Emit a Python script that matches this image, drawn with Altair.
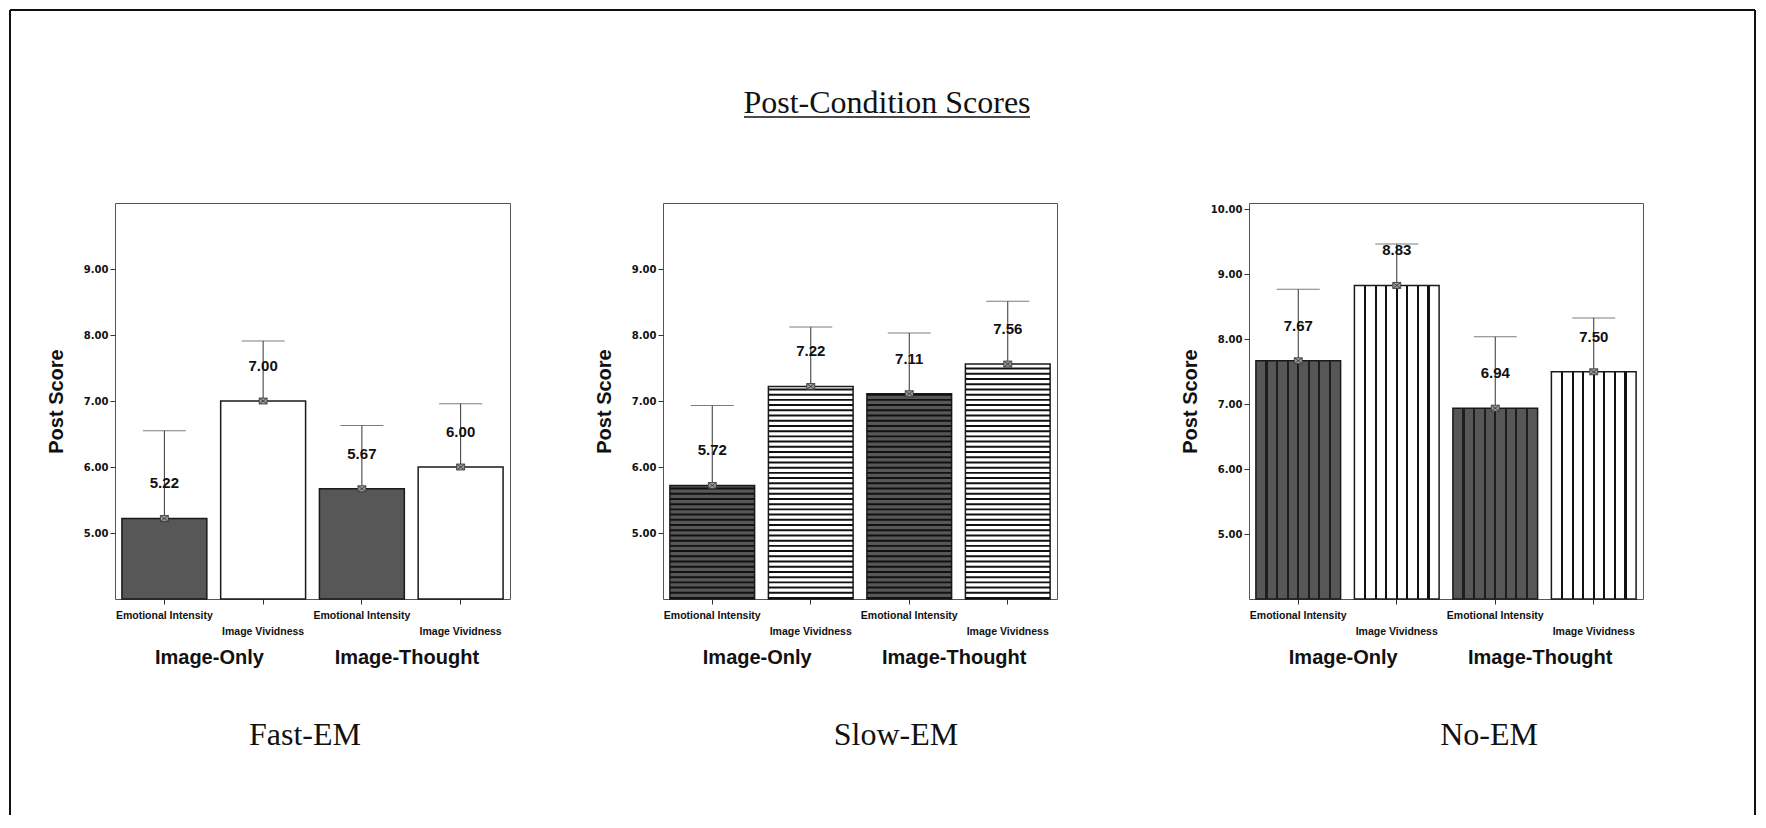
import altair as alt
import pandas as pd

# ---------------- data ----------------
conditions = ["Fast-EM", "Slow-EM", "No-EM"]
groups = ["Image-Only", "Image-Thought"]
measures = ["Emotional Intensity", "Image Vividness"]

fast_means = [5.22, 7.00, 5.67, 6.00]
fast_upper = [6.55, 7.91, 6.63, 6.96]
slow_means = [5.72, 7.22, 7.11, 7.56]
slow_upper = [6.93, 8.12, 8.03, 8.51]
no_means = [7.67, 8.83, 6.94, 7.50]
no_upper = [8.77, 9.47, 8.04, 8.33]

ticks_fast = [5, 6, 7, 8, 9]
ticks_slow = [5, 6, 7, 8, 9]
ticks_no = [5, 6, 7, 8, 9, 10]
domain_fast = [4, 10]
domain_slow = [4, 10]
domain_no = [4, 10.1]

main_title = "Post-Condition Scores"
axis_title = "Post Score"

SANS = "Liberation Sans"
SERIF = "Liberation Serif"
H = 396
DARK = "#575757"


def make_df(means, uppers):
    rows = []
    i = 0
    for g in groups:
        for m in measures:
            rows.append({"group": g, "measure": m, "key": f"{g} | {m}",
                         "mean": means[i], "upper": uppers[i],
                         "label": f"{means[i]:.2f}"})
            i += 1
    return pd.DataFrame(rows)


keys = [f"{g} | {m}" for g in groups for m in measures]
label_expr = ("split(datum.value, ' | ')[1] == '%s' ? ['', split(datum.value, ' | ')[1]] "
              ": split(datum.value, ' | ')[1]") % measures[1]


def stripe_stops(base, line):
    gs = alt.GradientStop
    stops = [gs(offset=0, color=base)]
    for k in range(1, 8):
        c = k / 8
        stops += [gs(offset=c - 0.012, color=base), gs(offset=c - 0.012, color=line),
                  gs(offset=c + 0.012, color=line), gs(offset=c + 0.012, color=base)]
    stops.append(gs(offset=1, color=base))
    return alt.LinearGradient(gradient="linear", stops=stops, x1=0, x2=1, y1=0, y2=0)


def panel(cond, means, uppers, ticks, domain, texture, width, title_x, extra=None):
    df = make_df(means, uppers)
    xax = alt.Axis(title=None, labelExpr=label_expr, labelAngle=0, labelFont=SANS,
                   labelFontSize=10.5, labelFontWeight="bold", labelColor="#111",
                   tickSize=5, tickColor="#333", labelPadding=6, labelLineHeight=16,
                   labelBaseline="top", labelAlign="center", domain=False,
                   labelOverlap=False, labelFlush=False)
    yax = alt.Axis(values=ticks, format=".2f", title=axis_title, titleFont=SANS,
                   titleFontSize=20, titleFontWeight="bold", titleColor="#111",
                   titleX=-59, titleY=H / 2, titleAlign="center", titleBaseline="middle",
                   labelFont="DejaVu Sans", labelFontSize=10, labelFontWeight="bold",
                   labelColor="#111", labelPadding=2, tickSize=5, tickColor="#333",
                   domain=False, grid=False)
    xs = alt.Scale(domain=keys, paddingInner=0.14, paddingOuter=0.07)
    ys = alt.Scale(domain=domain, nice=False, zero=False)
    X = alt.X("key:N", sort=keys, scale=xs, axis=xax)
    base = alt.Chart(df)

    layers = []
    if texture == "vertical":
        for m, b, ln in [(measures[0], DARK, "#1e1e1e"), (measures[1], "white", "#111")]:
            layers.append(
                base.transform_filter(alt.datum.measure == m)
                .mark_bar(fill=stripe_stops(b, ln), stroke="#1a1a1a", strokeWidth=1.5)
                .encode(x=X, y=alt.Y("mean:Q", scale=ys, axis=yax), y2=alt.datum(domain[0]))
            )
    else:
        layers.append(
            base.mark_bar(stroke="#1a1a1a", strokeWidth=1.5)
            .encode(x=X, y=alt.Y("mean:Q", scale=ys, axis=yax), y2=alt.datum(domain[0]),
                    fill=alt.condition(alt.datum.measure == measures[0],
                                       alt.value(DARK), alt.value("white")))
        )
        if texture == "horizontal":
            layers.append(
                base.transform_calculate(s="sequence(%s, datum.mean - 0.02, 0.079)" % domain[0])
                .transform_flatten(["s"])
                .transform_calculate(s2="datum.s + 0.03")
                .mark_bar(color="#111")
                .encode(x=X, y=alt.Y("s:Q", scale=ys, axis=yax), y2="s2:Q")
            )

    layers.append(base.mark_rule(color="#333", strokeWidth=1)
                  .encode(x=X, y=alt.Y("mean:Q", scale=ys, axis=yax), y2="upper:Q"))
    layers.append(base.mark_tick(orient="horizontal", size=43, thickness=1, color="#444")
                  .encode(x=X, y=alt.Y("upper:Q", scale=ys, axis=yax)))
    layers.append(base.mark_point(shape="M-1,-0.75L1,-0.75L1,0.75L-1,0.75Z M-1,-0.75L1,0.75 M1,-0.75L-1,0.75",
                                  size=64, filled=True, fill="#9a9a9a", stroke="#333",
                                  strokeWidth=0.8, opacity=1)
                  .encode(x=X, y=alt.Y("mean:Q", scale=ys, axis=yax)))
    layers.append(base.mark_text(dy=-35, font=SANS, fontSize=15, fontWeight="bold",
                                 baseline="middle", align="center", color="#111")
                  .encode(x=X, y=alt.Y("mean:Q", scale=ys, axis=yax), text="label:N"))

    gdf = pd.DataFrame({"group": groups, "key": [f"{g} | {measures[0]}" for g in groups]})
    layers.append(alt.Chart(gdf).mark_text(dx=45, font=SANS, fontSize=20, fontWeight="bold",
                                           baseline="middle", align="center", color="#111")
                  .encode(x=X, y=alt.value(H + 59), text="group:N"))

    tdf = pd.DataFrame({"t": [cond]})
    layers.append(alt.Chart(tdf).mark_text(font=SERIF, fontSize=32, baseline="alphabetic",
                                           align="center", color="#111")
                  .encode(x=alt.value(title_x), y=alt.value(542), text="t:N"))
    if extra:
        layers += extra
    return alt.layer(*layers).properties(width=width, height=H)


# decorations drawn in the first panel (page frame and main title)
mdf = pd.DataFrame({"t": [main_title]})
frame = [
    alt.Chart(mdf).mark_rule(color="#111", strokeWidth=2)
    .encode(x=alt.value(-105), y=alt.value(-193), y2=alt.value(612)),
    alt.Chart(mdf).mark_rule(color="#111", strokeWidth=2)
    .encode(x=alt.value(1640), y=alt.value(-193), y2=alt.value(612)),
    alt.Chart(mdf).mark_rule(color="#111", strokeWidth=2)
    .encode(x=alt.value(-105), x2=alt.value(1640), y=alt.value(-193)),
    alt.Chart(mdf).mark_text(font=SERIF, fontSize=32, baseline="alphabetic",
                             align="center", color="#111")
    .encode(x=alt.value(772), y=alt.value(-90), text="t:N"),
    alt.Chart(mdf).mark_rule(color="#111", strokeWidth=1.5)
    .encode(x=alt.value(629), x2=alt.value(915), y=alt.value(-86)),
]

p1 = panel(conditions[0], fast_means, fast_upper, ticks_fast, domain_fast, "plain", 395, 190, frame)
p2 = panel(conditions[1], slow_means, slow_upper, ticks_slow, domain_slow, "horizontal", 394, 233)
p3 = panel(conditions[2], no_means, no_upper, ticks_no, domain_no, "vertical", 394, 240)


def spacer(w):
    return (alt.Chart(pd.DataFrame({"a": [0]}))
            .mark_rule(opacity=0)
            .encode(x=alt.value(0), y=alt.value(0), y2=alt.value(1))
            .properties(width=w, height=H, view=alt.ViewBackground(stroke=None)))


chart = (
    alt.hconcat(p1, spacer(153), p2, spacer(192), p3, spacing=0, bounds="flush")
    .properties(padding=0, background="white")
    .configure_view(stroke="#555", strokeWidth=1)
)

chart.save("out.html", embed_options={"renderer": "svg", "actions": False})
